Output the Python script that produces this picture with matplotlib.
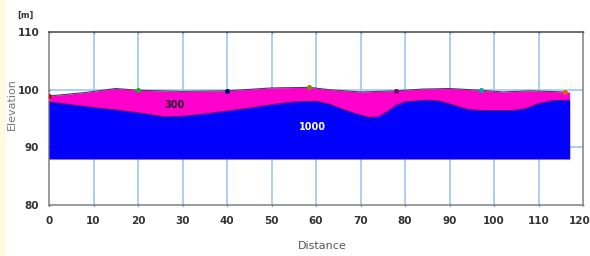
import matplotlib
matplotlib.use("Agg")
import matplotlib.pyplot as plt
from matplotlib.patches import Rectangle
from matplotlib.transforms import ScaledTranslation

# ---- data ----
x_1000 = [0, 5, 10, 15, 20, 26, 30, 35, 40, 45, 50, 55, 60, 63, 66, 69, 72, 74, 76, 78, 80, 85, 88, 91, 94, 97, 100, 104, 107, 110, 113, 117]
y_1000 = [97.9, 97.4, 96.9, 96.5, 96.0, 95.3, 95.4, 95.8, 96.3, 96.8, 97.4, 97.9, 98.0, 97.5, 96.6, 95.8, 95.2, 95.3, 96.2, 97.3, 97.9, 98.2, 98.0, 97.3, 96.6, 96.4, 96.4, 96.4, 96.7, 97.6, 98.1, 98.2]
x_300 = [0, 8, 15, 20, 30, 40, 50, 58.5, 63, 70, 78, 84, 90, 97, 102, 108, 116, 117]
y_300 = [98.9, 99.5, 100.2, 99.9, 99.7, 99.8, 100.3, 100.4, 100.0, 99.6, 99.8, 100.1, 100.2, 99.9, 99.6, 99.8, 99.6, 99.6]
base_level = 88.0
marker_x = [0, 20, 40, 58.5, 78, 97, 116]
marker_y = [98.9, 99.9, 99.8, 100.4, 99.8, 99.9, 99.6]
marker_colors = ["#cc0000", "#22aa22", "#000080", "#888800", "#800080", "#00aaaa", "#dd6600"]
x_ticks = [0, 10, 20, 30, 40, 50, 60, 70, 80, 90, 100, 110, 120]
y_ticks = [80, 90, 100, 110]
label_300 = "300"
label_1000 = "1000"

fig = plt.figure(figsize=(5.9, 2.56), dpi=100)
fig.patch.set_facecolor("white")
fig.patches.append(Rectangle((0, 0), 6 / 590, 1, transform=fig.transFigure,
                             facecolor="#fffbe0", edgecolor="none", zorder=0))

ax = fig.add_axes([49 / 590, 1 - 205 / 256, 534 / 590, 173 / 256])
ax.set_xlim(0, 120)
ax.set_ylim(80, 110)

grid_c = "#9cc8f0"
for xv in x_ticks[1:-1]:
    ax.axvline(xv, color=grid_c, lw=1.2, zorder=0)
for yv in [90, 100]:
    ax.axhline(yv, color=grid_c, lw=1.2, zorder=0)

ax.fill_between(x_300, base_level, y_300, color="#ff00cc", lw=0, zorder=2)
ax.fill_between(x_1000, base_level, y_1000, color="#0000ff", lw=0, zorder=3)
ax.plot(x_300[:-1], y_300[:-1], color="#4a3a6a", lw=0.8, zorder=4)
ax.plot(x_1000, y_1000, color="#30205a", lw=0.6, zorder=4)
for mx, my, mc in zip(marker_x, marker_y, marker_colors):
    ax.plot(mx, my, marker="o", ms=2.6, color=mc, zorder=5)

ax.text(28.3, 97.3, label_300, fontsize=7, fontweight="bold", color="#2a1030",
        ha="center", va="center", family="Liberation Sans Narrow", zorder=6)
ax.text(59.3, 93.5, label_1000, fontsize=7, fontweight="bold", color="white",
        ha="center", va="center", family="Liberation Sans Narrow", zorder=6)

for s in ["left", "bottom", "right"]:
    ax.spines[s].set_color("#8a8a8a")
    ax.spines[s].set_linewidth(1.2)
ax.spines["top"].set_color("#555555")
ax.spines["top"].set_linewidth(1.2)

ax.set_xticks(x_ticks)
ax.set_yticks(y_ticks)
ax.tick_params(axis="both", length=2, width=1, color="#444444", pad=6,
               labelsize=7.5, labelcolor="#333333")
ax.tick_params(axis="x", top=True, direction="inout", pad=7)
ax.tick_params(axis="y", direction="inout")
for lab in ax.get_xticklabels() + ax.get_yticklabels():
    lab.set_fontweight("bold")
    lab.set_family("Liberation Sans Narrow")
# keep the last x tick label inside the canvas
last = ax.get_xticklabels()[-1]
last.set_transform(last.get_transform() + ScaledTranslation(-3 / 100, 0, fig.dpi_scale_trans))

fig.text(25 / 590, 1 - 15 / 256, "[m]", fontsize=6, fontweight="bold", color="#333333",
         ha="center", va="center", family="Liberation Sans Narrow")
fig.text(12 / 590, 1 - 104 / 256, "Elevation", fontsize=8, color="#777777",
         rotation=90, ha="center", va="center")
fig.text(322 / 590, 1 - 246 / 256, "Distance", fontsize=8, color="#555555",
         ha="center", va="center")

fig.savefig("out.png", dpi=100)
